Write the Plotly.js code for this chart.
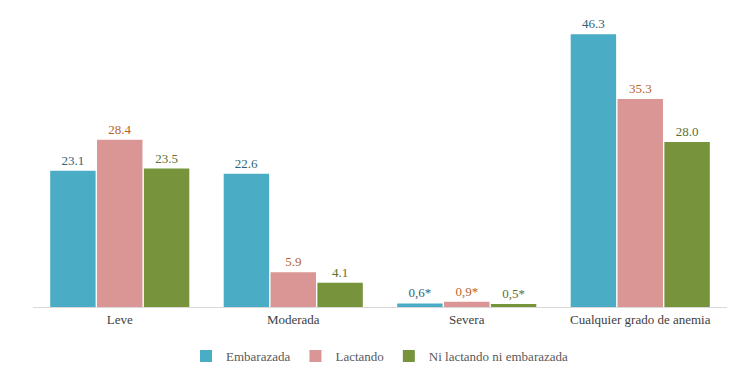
<!DOCTYPE html>
<html>
<head>
<meta charset="utf-8">
<script src="https://cdn.plot.ly/plotly-3.0.1.min.js"></script>
<style>
html,body{margin:0;padding:0;background:#fff;}
</style>
</head>
<body>
<div id="chart"></div>
<script>
const categories = ["Leve", "Moderada", "Severa", "Cualquier grado de anemia"];
const seriesNames = ["Embarazada", "Lactando", "Ni lactando ni embarazada"];
const embarazada = [23.1, 22.6, 0.6, 46.3];
const lactando = [28.4, 5.9, 0.9, 35.3];
const niLactando = [23.5, 4.1, 0.5, 28.0];
const embarazadaLabels = ["23.1", "22.6", "0,6*", "46.3"];
const lactandoLabels = ["28.4", "5.9", "0,9*", "35.3"];
const niLactandoLabels = ["23.5", "4.1", "0,5*", "28.0"];

const barColors = ["#4bacc6", "#d99694", "#77933c"];
const labelColors = ["#2f6479", "#b8642c", "#5c7034"];
const seriesValues = [embarazada, lactando, niLactando];
const seriesLabels = [embarazadaLabels, lactandoLabels, niLactandoLabels];

const traces = seriesNames.map((name, i) => ({
  type: "bar",
  name: name,
  x: categories,
  y: seriesValues[i],
  text: seriesLabels[i],
  textposition: "outside",
  cliponaxis: false,
  textfont: {family: "Liberation Serif", size: 13, color: labelColors[i]},
  marker: {color: barColors[i]}
}));

const layout = {
  width: 734, height: 378,
  margin: {l: 33, r: 7, t: 10, b: 68},
  barmode: "group",
  bargap: 0.19,
  bargroupgap: 0.03,
  font: {family: "Liberation Serif", size: 13, color: "#404040"},
  xaxis: {
    showline: true, linecolor: "#d9d9d9", linewidth: 1,
    ticks: "", showgrid: false
  },
  yaxis: {
    range: [0, 50.4], showgrid: false, zeroline: false,
    showticklabels: false, showline: false, ticks: ""
  },
  showlegend: true,
  legend: {
    orientation: "h", x: 0.5, xanchor: "center", y: -0.115, yanchor: "top",
    font: {family: "Liberation Serif", size: 13, color: "#595959"}
  }
};

Plotly.newPlot("chart", traces, layout, {staticPlot: true});
</script>
</body>
</html>
